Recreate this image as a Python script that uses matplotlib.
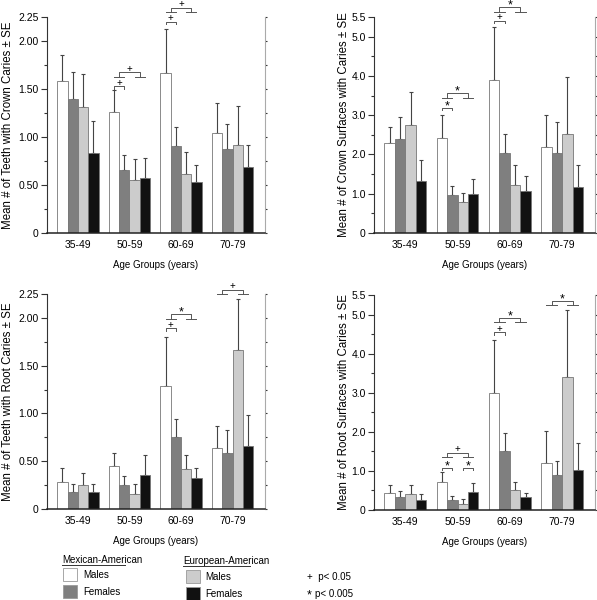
import numpy as np
import matplotlib
matplotlib.use("Agg")
import matplotlib.pyplot as plt
from matplotlib.patches import Rectangle
from matplotlib.lines import Line2D
from matplotlib.ticker import MultipleLocator, FixedLocator

plt.rcParams['font.family'] = ['Liberation Sans', 'DejaVu Sans']

groups = ['35-49', '50-59', '60-69', '70-79']
series = ['Mexican-American Males', 'Mexican-American Females',
          'European-American Males', 'European-American Females']

# mean values and upper standard errors per panel, order of series as above
crown_teeth = [[1.58, 1.26, 1.67, 1.04],
               [1.40, 0.66, 0.91, 0.87],
               [1.31, 0.55, 0.61, 0.92],
               [0.83, 0.57, 0.53, 0.69]]
crown_teeth_se = [[0.27, 0.23, 0.45, 0.31],
                  [0.28, 0.155, 0.19, 0.27],
                  [0.35, 0.22, 0.23, 0.40],
                  [0.34, 0.21, 0.18, 0.23]]

crown_surf = [[2.30, 2.41, 3.89, 2.20],
              [2.39, 0.96, 2.03, 2.03],
              [2.74, 0.78, 1.21, 2.51],
              [1.32, 1.00, 1.06, 1.18]]
crown_surf_se = [[0.41, 0.59, 1.35, 0.80],
                 [0.57, 0.24, 0.48, 0.79],
                 [0.86, 0.25, 0.52, 1.45],
                 [0.55, 0.38, 0.40, 0.54]]

root_teeth = [[0.28, 0.45, 1.285, 0.64],
              [0.18, 0.25, 0.756, 0.585],
              [0.25, 0.16, 0.42, 1.66],
              [0.174, 0.36, 0.32, 0.66]]
root_teeth_se = [[0.15, 0.135, 0.515, 0.23],
                 [0.08, 0.10, 0.185, 0.24],
                 [0.125, 0.10, 0.14, 0.54],
                 [0.086, 0.20, 0.11, 0.325]]

root_surf = [[0.44, 0.715, 3.00, 1.21],
             [0.32, 0.25, 1.52, 0.90],
             [0.41, 0.145, 0.51, 3.40],
             [0.255, 0.46, 0.32, 1.03]]
root_surf_se = [[0.20, 0.255, 1.34, 0.81],
                [0.16, 0.11, 0.46, 0.36],
                [0.24, 0.135, 0.205, 1.71],
                [0.165, 0.22, 0.12, 0.68]]

# significance marks: (group index, bracket type, height, symbol)
sig_crown_teeth = [(1, 'm', 1.53, '+'), (1, 'big', 1.63, '+'),
                   (2, 'm', 2.20, '+'), (2, 'big', 2.30, '+')]
sig_crown_surf = [(1, 'm', 3.19, '*'), (1, 'big', 3.44, '*'),
                  (2, 'm', 5.41, '+'), (2, 'big', 5.63, '*')]
sig_root_teeth = [(2, 'm', 1.89, '+'), (2, 'big', 1.99, '*'),
                  (3, 'big', 2.25, '+')]
sig_root_surf = [(1, 'm', 1.08, '*'), (1, 'e', 1.08, '*'), (1, 'big', 1.345, '+'),
                 (2, 'm', 4.55, '+'), (2, 'big', 4.80, '*'),
                 (3, 'big', 5.24, '*')]

colors = ['#ffffff', '#7f7f7f', '#cccccc', '#111111']
W, H = 597, 600
bw = 0.2
offs = np.array([-1.5, -0.5, 0.5, 1.5]) * bw


def fig_rect(l, t, r, b):
    return [l / W, 1 - b / H, (r - l) / W, (b - t) / H]


def sig_text(ax, x, y, u, sym):
    if sym == '*':
        ax.text(x, y + 1.5 * u, sym, ha='center', va='center', fontsize=9, clip_on=False)
    else:
        ax.text(x, y + 3.5 * u, sym, ha='center', va='center', fontsize=7, clip_on=False)


def panel(fig, rect, vals, ses, sigs, ymax, major, minor, ticklabels, ylabel, lx):
    ax = fig.add_axes(rect)
    x = np.arange(len(groups))
    for i in range(4):
        ax.bar(x + offs[i], vals[i], bw, color=colors[i], edgecolor='#777777',
               linewidth=0.6, zorder=2)
        ax.errorbar(x + offs[i], vals[i], yerr=[np.zeros(4), ses[i]], fmt='none',
                    ecolor='#444444', elinewidth=0.8, capsize=1.5, capthick=0.8,
                    zorder=1)
    ax.set_xlim(-0.6, 3.63)
    ax.set_ylim(0, ymax)
    ax.set_xticks(x)
    ax.set_xticklabels(groups, fontsize=7.5)
    ax.tick_params(axis='x', length=0, pad=5)
    ax.yaxis.set_major_locator(FixedLocator(major))
    ax.set_yticklabels(ticklabels, fontsize=7.5)
    ax.yaxis.set_minor_locator(MultipleLocator(minor))
    ax.tick_params(axis='y', which='major', length=4, width=0.8, color='#333333', pad=2)
    ax.tick_params(axis='y', which='minor', length=2.5, width=0.8, color='#333333')
    ax.tick_params(axis='y', which='both', right=True, labelright=False)
    ax.spines['top'].set_visible(False)
    ax.spines['left'].set_color('#333333')
    ax.spines['bottom'].set_color('#222222')
    ax.spines['bottom'].set_linewidth(1.1)
    ax.spines['right'].set_color('#aaaaaa')
    ax.spines['right'].set_linewidth(0.8)
    for t in ax.yaxis.get_ticklines(minor=False)[1::2] + ax.yaxis.get_ticklines(minor=True)[1::2]:
        t.set_color('#bbbbbb')
        t.set_markersize(1.5)
    ax.set_ylabel(ylabel, fontsize=8.3)
    ax.yaxis.set_label_coords(lx, 0.5)
    ax.set_xlabel('Age Groups (years)', fontsize=7)
    ax.xaxis.set_label_coords(0.5, -0.125)

    u = ymax / 216.0
    lc = '#555555'
    kw = dict(color=lc, lw=0.7, clip_on=False, zorder=3)
    for g, kind, y, sym in sigs:
        if kind in ('m', 'e'):
            a, b = (offs[0], offs[1]) if kind == 'm' else (offs[2], offs[3])
            ax.plot([g + a, g + a, g + b, g + b], [y - 2.5 * u, y, y, y - 2.5 * u], **kw)
            sig_text(ax, g + (a + b) / 2, y, u, sym)
        else:
            top = y + 4.5 * u
            ax.plot([g + offs[0], g + offs[1]], [y, y], **kw)
            ax.plot([g + offs[2], g + offs[3]], [y, y], **kw)
            ax.plot([g - 0.2, g - 0.2, g + 0.2, g + 0.2], [y, top, top, y], **kw)
            sig_text(ax, g, top, u, sym)
    return ax


fig = plt.figure(figsize=(W / 100, H / 100), dpi=100)

lab_a = ['0', '0.50', '1.00', '1.50', '2.00', '2.25']
tk_a = [0, 0.5, 1.0, 1.5, 2.0, 2.25]
lab_b = ['0', '1.0', '2.0', '3.0', '4.0', '5.0', '5.5']
tk_b = [0, 1, 2, 3, 4, 5, 5.5]

panel(fig, fig_rect(47, 17, 265, 233), crown_teeth, crown_teeth_se, sig_crown_teeth,
      2.25, tk_a, 0.25, lab_a, 'Mean # of Teeth with Crown Caries \u00b1 SE', -0.15)
panel(fig, fig_rect(374, 17, 595, 233), crown_surf, crown_surf_se, sig_crown_surf,
      5.5, tk_b, 0.5, lab_b, 'Mean # of Crown Surfaces with Caries \u00b1 SE', -0.11)
panel(fig, fig_rect(47, 294, 265, 509), root_teeth, root_teeth_se, sig_root_teeth,
      2.25, tk_a, 0.25, lab_a, 'Mean # of Teeth with Root Caries \u00b1 SE', -0.15)
panel(fig, fig_rect(374, 295, 595, 510), root_surf, root_surf_se, sig_root_surf,
      5.5, tk_b, 0.5, lab_b, 'Mean # of Root Surfaces with Caries \u00b1 SE', -0.11)

# legend
def fx(px):
    return px / W


def fy(py):
    return 1 - py / H


lfs = 7
fig.text(fx(62), fy(560), 'Mexican-American', fontsize=lfs, va='center', ha='left')
fig.add_artist(Line2D([fx(62), fx(125)], [fy(564.5), fy(564.5)], color='#333333', lw=0.7))
fig.text(fx(183), fy(561), 'European-American', fontsize=lfs, va='center', ha='left')
fig.add_artist(Line2D([fx(183), fx(250)], [fy(565.5), fy(565.5)], color='#333333', lw=0.7))

boxes = [(63, 568, colors[0], 'Males', 83, 575),
         (63, 585, colors[1], 'Females', 83, 592),
         (186, 570, colors[2], 'Males', 205, 577),
         (186, 587, colors[3], 'Females', 205, 594)]
for bx, by, c, lab, tx, ty in boxes:
    fig.add_artist(Rectangle((fx(bx), fy(by + 13)), 14 / W, 13 / H, facecolor=c,
                             edgecolor='#999999', lw=0.6, transform=fig.transFigure))
    fig.text(fx(tx), fy(ty), lab, fontsize=lfs, va='center', ha='left')

fig.text(fx(307), fy(577), '+  p< 0.05', fontsize=lfs, va='center', ha='left')
fig.text(fx(307), fy(595), '*', fontsize=9, va='center', ha='left')
fig.text(fx(315), fy(594), 'p< 0.005', fontsize=lfs, va='center', ha='left')

fig.savefig('out.png', dpi=100)
